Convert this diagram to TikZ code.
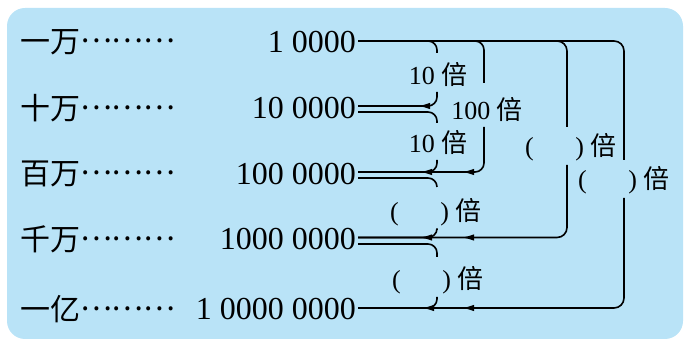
\documentclass[tikz,border=0pt]{standalone}
\usepackage{fontspec}
\setmainfont{Liberation Serif}
\newfontfamily\cjk{Noto Sans CJK SC}
\usepackage{tikz}
\usetikzlibrary{arrows.meta, decorations.markings}

\definecolor{panelblue}{RGB}{185,227,247}
\newcommand{\bei}{{\cjk 倍}}
\newcommand{\kuohao}{(\hspace{1.6em})}
\newcommand{\dotrow}{\raisebox{0.33em}{………}}

\begin{document}
\begin{tikzpicture}[x=1pt,y=1pt,
  num/.style={anchor=east,inner sep=2pt,font=\fontsize{32}{32}\selectfont},
  unit/.style={anchor=west,inner sep=0pt,font=\fontsize{30}{30}\selectfont\cjk},
  ratio/.style={inner sep=0pt,font=\fontsize{26}{26}\selectfont},
  link/.style={line width=1.6pt,rounded corners=9pt},
  tipat/.style={postaction={decorate},decoration={markings,
    mark=at position -#1 with {\arrow{Latex[length=12pt,width=6.5pt]}}}}]
\useasboundingbox (0,0) rectangle (684,339);
% panel
\fill[panelblue,rounded corners=18pt] (7,0) rectangle (683,331);

% units and values
\node[unit] (u1) at (20,296.5) {一万\dotrow};
\node[unit] (u2) at (20,231) {十万\dotrow};
\node[unit] (u3) at (20,165) {百万\dotrow};
\node[unit] (u4) at (20,100) {千万\dotrow};
\node[unit] (u5) at (20,30) {一亿\dotrow};

\node[num] (n1) at (358,296.5) {1 0000};
\node[num] (n2) at (358,231) {10 0000};
\node[num] (n3) at (358,165) {100 0000};
\node[num] (n4) at (358,100) {1000 0000};
\node[num] (n5) at (358,30) {1 0000 0000};

% gap ends of the brackets
\coordinate (a1) at (437,286); \coordinate (a2) at (437,247);
\coordinate (b1) at (437,216); \coordinate (b2) at (437,179);
\coordinate (c1) at (484,256); \coordinate (c2) at (484,212);
\coordinate (d1) at (437,152); \coordinate (d2) at (437,109);
\coordinate (e1) at (437,82);  \coordinate (e2) at (437,42);
\coordinate (f1) at (567,212); \coordinate (f2) at (567,174);
\coordinate (g1) at (624,179); \coordinate (g2) at (624,141);

% labels
\node[ratio] (la) at (438,264) {10 \bei};
\node[ratio] (lb) at (438,196) {10 \bei};
\node[ratio] (lc) at (487,229) {100 \bei};
\node[ratio,anchor=west] (ld) at (390,127) {\kuohao\ \bei};
\node[ratio,anchor=west] (le) at (392,59) {\kuohao\ \bei};
\node[ratio,anchor=west] (lf) at (525,192) {\kuohao\ \bei};
\node[ratio,anchor=west] (lg) at (578,159) {\kuohao\ \bei};

% small steps
\draw[link] ([yshift=1.5pt]n1.east) -| (a1);
\draw[link,tipat=60pt] (a2) |- ([yshift=2pt]n2.east);
\draw[link] ([yshift=-4pt]n2.east) -| (b1);
\draw[link,tipat=62pt] (b2) |- ([yshift=2pt]n3.east);
\draw[link] ([yshift=-4pt]n3.east) -| (d1);
\draw[link,tipat=62pt] (d2) |- ([yshift=1.5pt]n4.east);
\draw[link] ([yshift=-5pt]n4.east) -| (e1);
\draw[link,tipat=64pt] (e2) |- ([yshift=1pt]n5.east);

% big steps
\draw[link] ([yshift=1.5pt]n1.east) -| (c1);
\draw[link,tipat=104pt] (c2) |- ([yshift=2pt]n3.east);
\draw[link,rounded corners=10pt] ([yshift=1.5pt]n1.east) -| (f1);
\draw[link,rounded corners=10pt,tipat=104pt] (f2) |- ([yshift=1.5pt]n4.east);
\draw[link,rounded corners=10pt] ([yshift=1.5pt]n1.east) -| (g1);
\draw[link,rounded corners=10pt,tipat=104pt] (g2) |- ([yshift=1pt]n5.east);
\end{tikzpicture}
\end{document}
